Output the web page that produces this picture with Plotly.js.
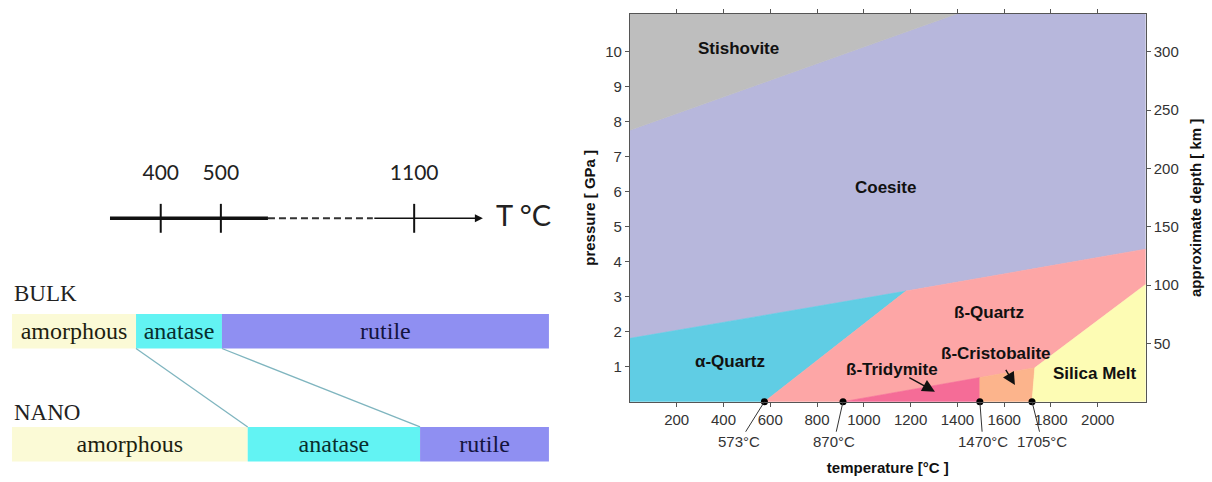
<!DOCTYPE html>
<html>
<head>
<meta charset="utf-8">
<script src="https://cdn.plot.ly/plotly-3.0.1.min.js"></script>
<style>html,body{margin:0;padding:0;background:#fff;}#chart{width:1212px;height:482px;}</style>
</head>
<body>
<div id="chart"></div>
<script>
// ---------- Left diagram (TiO2 phases, schematic scale 0..100) ----------
const tempTickLabels = ['400', '500', '1100'];
const tempTickPos = [27.7, 38.9, 74.9];
const tempAxisSolid = [18.25, 47.67];
const tempAxisDashed = [47.67, 67.2];
const tempAxisArrow = [67.2, 87.7];
const tempUnitLabel = 'T °C';
const tempUnitPos = 95.2;

const rowNames = ['BULK', 'NANO'];
const phaseNamesTiO2 = ['amorphous', 'anatase', 'rutile'];
const bulkEdges = [0, 23.1, 39.1, 100];
const nanoEdges = [0, 43.9, 76.0, 100];

// ---------- Right diagram (SiO2 phase diagram) ----------
const xTicks = [200, 400, 600, 800, 1000, 1200, 1400, 1600, 1800, 2000];
const yTicks = [1, 2, 3, 4, 5, 6, 7, 8, 9, 10];
const depthTicks = [50, 100, 150, 200, 250, 300];

const stishT = [0, 1404, 0];
const stishP = [7.76, 11.1, 11.1];
const coesT = [0, 1180, 2205, 2205, 1404, 0];
const coesP = [1.81, 3.16, 4.36, 11.1, 11.1, 7.76];
const aQuartzT = [0, 575, 1180, 0];
const aQuartzP = [0, 0, 3.16, 1.81];
const bQuartzT = [575, 911, 1496, 1731, 2205, 2205, 1180];
const bQuartzP = [0, 0, 0.69, 0.97, 3.35, 4.36, 3.16];
const tridT = [911, 1496, 1496];
const tridP = [0, 0, 0.69];
const cristT = [1496, 1719, 1731, 1496];
const cristP = [0, 0, 0.97, 0.69];
const meltT = [1719, 2205, 2205, 1731];
const meltP = [0, 0, 3.35, 0.97];

const phaseLabels = ['Stishovite', 'Coesite', 'ß-Quartz', 'α-Quartz', 'ß-Tridymite', 'ß-Cristobalite', 'Silica Melt'];
const phaseLabelT = [465, 1094, 1537, 428, 1119, 1565, 1988];
const phaseLabelP = [10.1, 6.13, 2.54, 1.14, 0.906, 1.38, 0.81];

const transitionT = [575, 911, 1496, 1719];
const transitionLabels = ['573°C', '870°C', '1470°C', '1705°C'];

const arrowHeadT = [1304, 1646];
const arrowHeadP = [0.286, 0.477];
const arrowTailT = [1188, 1603];
const arrowTailP = [0.714, 0.954];

// ---------- styles ----------
const tio2Colors = ['#fbfad6', '#62f3f3', '#8f8ff2'];
const tio2TextColors = ['#1e1e10', '#082e2e', '#14143e'];
const sio2Colors = {
  stish: '#bebebe', coes: '#b7b7dc', aq: '#60cde4', bq: '#fda6a6',
  trid: '#f56c97', crist: '#fcb48c', melt: '#fdfcb4'
};
const SANS = 'Liberation Sans, Arial, sans-serif';
const SERIF = 'Liberation Serif, Times New Roman, serif';
const CAL = 'Lato, Open Sans, sans-serif';

const traces = [];

function poly(T, P, color) {
  traces.push({
    type: 'scatter', mode: 'lines', x: T.concat([T[0]]), y: P.concat([P[0]]),
    fill: 'toself', fillcolor: color, line: {color: color, width: 0.6},
    xaxis: 'x', yaxis: 'y', hoverinfo: 'skip', showlegend: false
  });
}
poly(coesT, coesP, sio2Colors.coes);
poly(stishT, stishP, sio2Colors.stish);
poly(aQuartzT, aQuartzP, sio2Colors.aq);
poly(bQuartzT, bQuartzP, sio2Colors.bq);
poly(tridT, tridP, sio2Colors.trid);
poly(cristT, cristP, sio2Colors.crist);
poly(meltT, meltP, sio2Colors.melt);

// transition dots
traces.push({
  type: 'scatter', mode: 'markers', x: transitionT, y: transitionT.map(() => 0),
  marker: {color: '#000', size: 7}, cliponaxis: false, xaxis: 'x', yaxis: 'y',
  hoverinfo: 'skip', showlegend: false
});
// invisible trace to activate depth axis
traces.push({
  type: 'scatter', mode: 'markers', x: [null], y: [null], xaxis: 'x', yaxis: 'y3',
  hoverinfo: 'skip', showlegend: false
});

// ---------- left diagram traces ----------
function barRow(edges, row) {
  const base = [], len = [];
  for (let i = 0; i < edges.length - 1; i++) { base.push(edges[i]); len.push(edges[i + 1] - edges[i]); }
  traces.push({
    type: 'bar', orientation: 'h', x: len, base: base, y: base.map(() => row),
    width: 0.305, marker: {color: tio2Colors, line: {width: 0}},
    text: phaseNamesTiO2, textposition: 'inside', insidetextanchor: 'middle',
    constraintext: 'none',
    textfont: {family: SERIF, size: 24, color: tio2TextColors},
    xaxis: 'x2', yaxis: 'y2', hoverinfo: 'skip', showlegend: false
  });
}
barRow(bulkEdges, 1);
barRow(nanoEdges, 0);

// connecting lines between bulk and nano boundaries
for (let i = 1; i <= 2; i++) {
  traces.push({
    type: 'scatter', mode: 'lines', x: [bulkEdges[i], nanoEdges[i]], y: [1 - 0.1525, 0 + 0.1525],
    line: {color: '#7fb5bf', width: 1.3}, xaxis: 'x2', yaxis: 'y2',
    hoverinfo: 'skip', showlegend: false
  });
}
// temperature axis
traces.push({
  type: 'scatter', mode: 'lines', x: tempAxisSolid, y: [2, 2],
  line: {color: '#111', width: 3.5}, xaxis: 'x2', yaxis: 'y2', hoverinfo: 'skip', showlegend: false
});
traces.push({
  type: 'scatter', mode: 'lines', x: tempAxisDashed, y: [2, 2],
  line: {color: '#333', width: 2, dash: '7px,4px'}, xaxis: 'x2', yaxis: 'y2', hoverinfo: 'skip', showlegend: false
});
// ticks
const tkX = [], tkY = [];
tempTickPos.forEach(p => { tkX.push(p, p, null); tkY.push(2 - 0.128, 2 + 0.128, null); });
traces.push({
  type: 'scatter', mode: 'lines', x: tkX, y: tkY,
  line: {color: '#111', width: 2}, xaxis: 'x2', yaxis: 'y2', hoverinfo: 'skip', showlegend: false
});
traces.push({
  type: 'scatter', mode: 'text', x: tempTickPos, y: tempTickPos.map(() => 2.385),
  text: tempTickLabels, textposition: 'middle center',
  textfont: {family: CAL, size: 21, color: '#222'},
  xaxis: 'x2', yaxis: 'y2', hoverinfo: 'skip', showlegend: false
});

const annotations = [];
// arrow of temperature axis
annotations.push({
  xref: 'x2', yref: 'y2', axref: 'x2', ayref: 'y2',
  x: tempAxisArrow[1], y: 2, ax: tempAxisArrow[0], ay: 2, text: '',
  showarrow: true, arrowhead: 2, arrowsize: 1, arrowwidth: 1.6, arrowcolor: '#111'
});
annotations.push({
  xref: 'x2', yref: 'y2', x: tempUnitPos, y: 2.03, text: tempUnitLabel, showarrow: false,
  font: {family: CAL, size: 29, color: '#222'}
});
// row labels
annotations.push({
  xref: 'x2', yref: 'y2', x: 0, y: 1.334, xanchor: 'left', yanchor: 'middle',
  text: rowNames[0], showarrow: false, font: {family: SERIF, size: 23, color: '#222'}
});
annotations.push({
  xref: 'x2', yref: 'y2', x: 0, y: 0.281, xanchor: 'left', yanchor: 'middle',
  text: rowNames[1], showarrow: false, font: {family: SERIF, size: 23, color: '#222'}
});

// SiO2 phase labels
phaseLabels.forEach((t, i) => {
  annotations.push({
    xref: 'x', yref: 'y', x: phaseLabelT[i], y: phaseLabelP[i], text: t, showarrow: false,
    font: {family: SANS, size: 17, weight: 'bold', color: '#111'}
  });
});
// small arrows
arrowHeadT.forEach((t, i) => {
  annotations.push({
    xref: 'x', yref: 'y', axref: 'x', ayref: 'y', x: t, y: arrowHeadP[i],
    ax: arrowTailT[i], ay: arrowTailP[i], text: '', showarrow: true,
    arrowhead: 2, arrowsize: 1.8, arrowwidth: 1.4, arrowcolor: '#111'
  });
});
// transition labels with leader lines
const leaderAx = [-25, -9, 3, 10];
transitionT.forEach((t, i) => {
  annotations.push({
    xref: 'x', yref: 'y', x: t, y: 0, ax: leaderAx[i], ay: 40, text: transitionLabels[i],
    showarrow: true, arrowhead: 0, arrowwidth: 1, arrowcolor: '#333', standoff: 0,
    font: {family: SANS, size: 15, color: '#333'}
  });
});

const axisCommon = {
  showgrid: false, zeroline: false, showline: true, linecolor: '#555', linewidth: 1,
  ticks: 'outside', ticklen: 4, tickcolor: '#555', tickwidth: 1,
  tickfont: {family: SANS, size: 15, color: '#333'}, fixedrange: true
};

const layout = {
  width: 1212, height: 482, margin: {l: 0, r: 0, t: 0, b: 0},
  paper_bgcolor: '#fff', plot_bgcolor: '#fff', showlegend: false, barmode: 'overlay',
  font: {family: SANS, color: '#333'},
  xaxis: Object.assign({}, axisCommon, {
    domain: [0.51972, 0.94530], range: [0, 2205], tickvals: xTicks, mirror: 'ticks',
    anchor: 'y',
    title: {text: 'temperature [°C ]', font: {family: SANS, size: 15, weight: 'bold', color: '#111'}, standoff: 35}
  }),
  yaxis: Object.assign({}, axisCommon, {
    domain: [0.1666, 0.9710], range: [0, 11.08], tickvals: yTicks, anchor: 'x',
    title: {text: 'pressure [ GPa ]', font: {family: SANS, size: 15, weight: 'bold', color: '#111'}, standoff: 5}
  }),
  yaxis3: Object.assign({}, axisCommon, {
    overlaying: 'y', side: 'right', anchor: 'x', range: [0, 332.4], tickvals: depthTicks,
    title: {text: 'approximate depth [ km ]', font: {family: SANS, size: 15, weight: 'bold', color: '#111'}, standoff: 12}
  }),
  xaxis2: {domain: [0, 0.462], range: [-2.235, 102.05], visible: false, fixedrange: true, anchor: 'y2'},
  yaxis2: {domain: [0, 1], range: [-0.3347, 3.933], visible: false, fixedrange: true, anchor: 'x2'},
  annotations: annotations
};

Plotly.newPlot('chart', traces, layout, {displayModeBar: false, staticPlot: true});
</script>
</body>
</html>
